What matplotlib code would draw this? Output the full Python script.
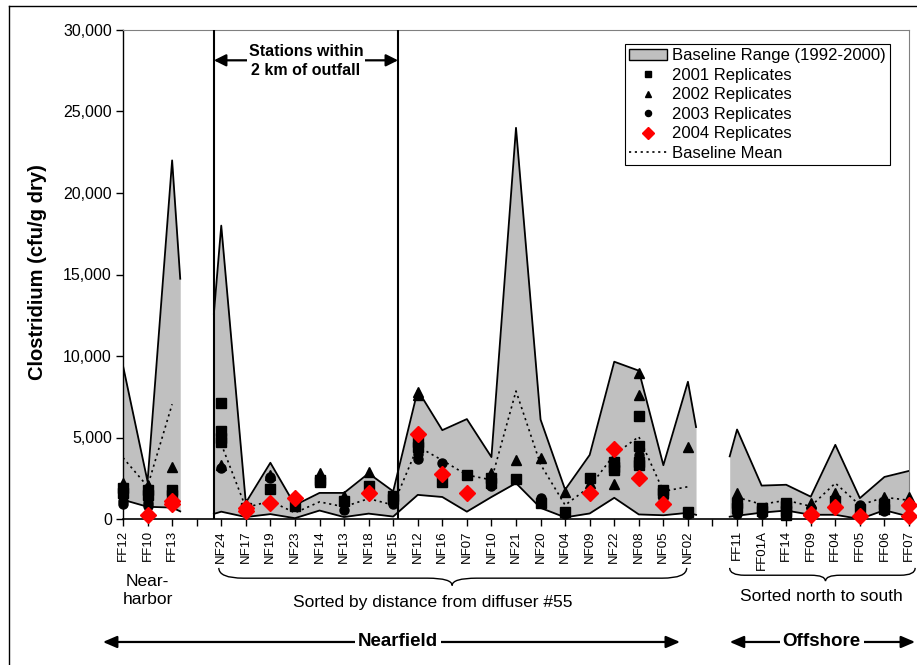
import numpy as np
import matplotlib
matplotlib.use('Agg')
import matplotlib.pyplot as plt
from matplotlib.path import Path
from matplotlib.patches import PathPatch, Patch
from matplotlib.lines import Line2D

plt.rcParams['font.family'] = ['Liberation Sans', 'DejaVu Sans']

nan = np.nan

# ---- data
stations = ['FF12', 'FF10', 'FF13', '',
            'NF24', 'NF17', 'NF19', 'NF23', 'NF14', 'NF13', 'NF18', 'NF15',
            'NF12', 'NF16', 'NF07', 'NF10', 'NF21', 'NF20', 'NF04', 'NF09',
            'NF22', 'NF08', 'NF05', 'NF02', '',
            'FF11', 'FF01A', 'FF14', 'FF09', 'FF04', 'FF05', 'FF06', 'FF07']

base_max = [9400, 2300, 22000, nan,
            18000, 1000, 3450, 850, 1600, 1600, 2800, 1700,
            7900, 5450, 6130, 3800, 24000, 6100, 1800, 3930,
            9650, 9100, 3300, 8420, nan,
            5490, 2050, 2100, 1370, 4550, 1280, 2580, 2950]

base_min = [1180, 750, 700, nan,
            450, 120, 300, 50, 520, 120, 330, 150,
            1480, 1350, 450, 1350, 2200, 680, 100, 340,
            1300, 280, 230, 380, nan,
            200, 390, 520, 260, 260, 0, 540, 150]

base_mean = [3760, 2000, 7040, nan,
             4600, 700, 1100, 380, 1050, 750, 1250, 860,
             4450, 3600, 2700, 2400, 7850, 3350, 850, 1980,
             3950, 5050, 1700, 1980, nan,
             1330, 900, 1150, 780, 2200, 850, 1330, 1150]

rep2001 = {'FF12': [1900, 1600], 'FF10': [1800, 1500], 'FF13': [1800, 1500],
           'NF24': [7100, 5400, 5000, 4700], 'NF17': [700], 'NF19': [1850],
           'NF23': [800], 'NF14': [2400, 2250], 'NF13': [1100], 'NF18': [2050],
           'NF15': [1400, 1200], 'NF12': [4700, 4400], 'NF16': [2300],
           'NF07': [2700], 'NF10': [2500, 2200], 'NF21': [2430], 'NF20': [1000],
           'NF04': [450], 'NF09': [2500], 'NF22': [3500, 3200, 3000],
           'NF08': [6300, 4500, 3500, 3300], 'NF05': [1800, 1600], 'NF02': [450],
           'FF11': [1000, 700], 'FF01A': [700, 500], 'FF14': [1000, 800, 500, 250],
           'FF04': [1100], 'FF05': [600], 'FF06': [900, 600]}

rep2002 = {'FF12': [2200], 'FF10': [2100], 'FF13': [3200], 'NF24': [3300],
           'NF17': [900], 'NF19': [2700], 'NF23': [900], 'NF14': [2800, 2600],
           'NF13': [1400], 'NF18': [2900], 'NF12': [7800, 7600], 'NF10': [2850],
           'NF21': [3620], 'NF20': [3740], 'NF04': [1680], 'NF09': [2200],
           'NF22': [2150], 'NF08': [8950, 7600], 'NF02': [4440],
           'FF11': [1580, 1300], 'FF09': [980], 'FF04': [1610],
           'FF06': [1330, 1100], 'FF07': [1370]}

rep2003 = {'FF12': [1400, 1100, 900], 'FF10': [1200, 1000, 800], 'FF13': [1500],
           'NF24': [3100], 'NF17': [600], 'NF19': [2600, 2500],
           'NF13': [1000, 550], 'NF15': [900], 'NF12': [4300, 4000, 3700],
           'NF16': [3450], 'NF10': [2000], 'NF20': [1300, 1100], 'NF04': [300],
           'NF22': [3300], 'NF08': [3900, 3600], 'NF05': [1300], 'NF02': [300],
           'FF11': [500, 300], 'FF01A': [300], 'FF09': [700], 'FF04': [1200],
           'FF05': [860], 'FF06': [500], 'FF07': [900]}

rep2004 = {'FF10': [250], 'FF13': [1100, 900], 'NF17': [700, 500],
           'NF19': [1000], 'NF23': [1300], 'NF18': [1600], 'NF12': [5200],
           'NF16': [2750], 'NF07': [1600], 'NF09': [1600], 'NF22': [4300],
           'NF08': [2500], 'NF05': [950], 'FF09': [300, 250], 'FF04': [750],
           'FF05': [200], 'FF07': [850, 200]}


def points(rep):
    xs, ys = [], []
    for st, vals in rep.items():
        for v in vals:
            xs.append(stations.index(st))
            ys.append(v)
    return xs, ys


def brace(ax, x0, x1, xm, y_end, y_body, y_tip, d):
    # curly brace: x in data units, y in axes fraction
    verts = [(x0, y_end), (x0, y_body), (x0 + d, y_body), (xm - d, y_body),
             (xm, y_body), (xm, y_tip), (xm, y_body), (xm + d, y_body),
             (x1 - d, y_body), (x1, y_body), (x1, y_end)]
    codes = [Path.MOVETO, Path.CURVE3, Path.CURVE3, Path.LINETO,
             Path.CURVE3, Path.CURVE3, Path.CURVE3, Path.CURVE3,
             Path.LINETO, Path.CURVE3, Path.CURVE3]
    ax.add_patch(PathPatch(Path(verts, codes), fill=False, lw=1, color='k',
                           transform=ax.get_xaxis_transform(), clip_on=False))


fig = plt.figure(figsize=(9.17, 6.65), dpi=100)
ax = fig.add_axes([123 / 917, 1 - 519 / 665, 786 / 917, 489 / 665])

x = np.arange(len(stations))
hi = np.array(base_max, dtype=float)
lo = np.array(base_min, dtype=float)

# baseline range, one block per station group
gaps = [i for i, s in enumerate(stations) if s == '']
starts = [0] + [g + 1 for g in gaps]
ends = [g - 1 for g in gaps] + [len(stations) - 1]
for a, b in zip(starts, ends):
    xs = list(x[a:b + 1].astype(float))
    up = list(hi[a:b + 1])
    dn = list(lo[a:b + 1])
    if a > 0:
        xs = [xs[0] - 0.3] + xs
        up = [up[0] * 0.7] + up
        dn = [dn[0] * 0.7] + dn
    if b < len(stations) - 1:
        xs = xs + [xs[-1] + 0.33]
        up = up + [up[-1] * 0.67]
        dn = dn + [dn[-1] * 0.67]
    ax.fill_between(xs, dn, up, color='#C0C0C0', lw=0, zorder=1)
    ax.plot(xs, up, color='k', lw=1.3, zorder=2)
    ax.plot(xs, dn, color='k', lw=1.3, zorder=2)

ax.plot(x, base_mean, color='k', lw=1.2, ls=(0, (1.3, 2.2)), zorder=3)

px, py = points(rep2001)
ax.plot(px, py, ls='none', marker='s', ms=6.5, color='k', zorder=4, clip_on=False)
px, py = points(rep2002)
ax.plot(px, py, ls='none', marker='^', ms=7, color='k', zorder=4, clip_on=False)
px, py = points(rep2003)
ax.plot(px, py, ls='none', marker='o', ms=6.5, color='k', zorder=4, clip_on=False)
px, py = points(rep2004)
ax.plot(px, py, ls='none', marker='D', ms=8, color='#FF0000', mec='#FF0000',
        zorder=5, clip_on=False)

# stations within 2 km box
for xv in [3.7, 11.2]:
    ax.axvline(xv, color='k', lw=1.5, zorder=6)
ax.annotate('', xy=(3.7, 0.938), xytext=(11.2, 0.938), xycoords=('data', 'axes fraction'),
            arrowprops=dict(arrowstyle='<|-|>,head_length=0.6,head_width=0.3',
                            color='k', lw=1.6, shrinkA=0, shrinkB=0, mutation_scale=12))
ax.text(7.45, 0.937, 'Stations within\n2 km of outfall', transform=ax.get_xaxis_transform(),
        ha='center', va='center', fontsize=11.5, fontweight='bold', linespacing=1.3,
        bbox=dict(facecolor='white', edgecolor='none', pad=1), zorder=7)

ax.set_xlim(0, len(stations) - 1)
ax.set_ylim(0, 30000)
ax.set_xticks(x)
ax.set_xticklabels(stations, rotation=90, fontsize=9.5)
ax.set_yticks(np.arange(0, 30001, 5000))
ax.set_yticklabels(['{:,}'.format(v) for v in range(0, 30001, 5000)], fontsize=11.5)
ax.tick_params(axis='both', direction='out', length=5, width=1, pad=3)

ax.spines['left'].set_linewidth(1)
ax.spines['bottom'].set_linewidth(1.2)
ax.spines['top'].set_color('#808080')
ax.spines['right'].set_color('#808080')

fig.text(38 / 917, 1 - 272 / 665, 'Clostridium (cfu/g dry)', rotation=90,
         ha='center', va='center', fontsize=14.5, fontweight='bold')

# legend
handles = [Patch(facecolor='#C0C0C0', edgecolor='k', lw=1),
           Line2D([], [], ls='none', marker='s', ms=4.4, color='k'),
           Line2D([], [], ls='none', marker='^', ms=5, color='k'),
           Line2D([], [], ls='none', marker='o', ms=4.4, color='k'),
           Line2D([], [], ls='none', marker='D', ms=6, color='#FF0000'),
           Line2D([], [], color='k', lw=1.2, ls=(0, (1.3, 2.2)))]
labels = ['Baseline Range (1992-2000)', '2001 Replicates', '2002 Replicates',
          '2003 Replicates', '2004 Replicates', 'Baseline Mean']
leg = ax.legend(handles, labels, loc='upper right', bbox_to_anchor=(0.976, 0.971),
                fontsize=12, frameon=True, fancybox=False, edgecolor='k', framealpha=1,
                borderaxespad=0, handlelength=2.3, handletextpad=0.3,
                labelspacing=0.27, borderpad=0.25)
leg.get_frame().set_linewidth(0.8)
leg.set_zorder(8)

# group labels under the axis
tr = ax.get_xaxis_transform()
ax.text(1, -0.147, 'Near-\nharbor', transform=tr, ha='center', va='center',
        fontsize=12.5, linespacing=1.25)
brace(ax, 3.9, 22.95, 13.4, -0.100, -0.121, -0.136, 1.0)
ax.text(12.6, -0.171, 'Sorted by distance from diffuser #55', transform=tr,
        ha='center', va='center', fontsize=12.5)
brace(ax, 24.7, 32.25, 28.6, -0.100, -0.115, -0.127, 0.6)
ax.text(28.45, -0.159, 'Sorted north to south', transform=tr,
        ha='center', va='center', fontsize=12.5)

arrow = dict(arrowstyle='<|-|>,head_length=0.7,head_width=0.3', color='k',
             lw=1.6, shrinkA=0, shrinkB=0, mutation_scale=12)
ax.annotate('', xy=(-0.82, -0.2515), xytext=(22.68, -0.2515),
            xycoords=('data', 'axes fraction'), arrowprops=arrow, annotation_clip=False)
ax.text(11.2, -0.2515, 'Nearfield', transform=tr, ha='center', va='center',
        fontsize=13.5, fontweight='bold',
        bbox=dict(facecolor='white', edgecolor='none', pad=2))
ax.annotate('', xy=(24.7, -0.2515), xytext=(32.25, -0.2515),
            xycoords=('data', 'axes fraction'), arrowprops=arrow, annotation_clip=False)
ax.text(28.45, -0.2515, 'Offshore', transform=tr, ha='center', va='center',
        fontsize=13.5, fontweight='bold',
        bbox=dict(facecolor='white', edgecolor='none', pad=2))

# outer frame (top and left edges visible)
fig.add_artist(Line2D([9 / 917, 9 / 917], [0, 1 - 6 / 665], color='k', lw=1,
                      transform=fig.transFigure))
fig.add_artist(Line2D([9 / 917, 1], [1 - 6 / 665, 1 - 6 / 665], color='k', lw=1,
                      transform=fig.transFigure))

fig.savefig('out.png', dpi=100)
